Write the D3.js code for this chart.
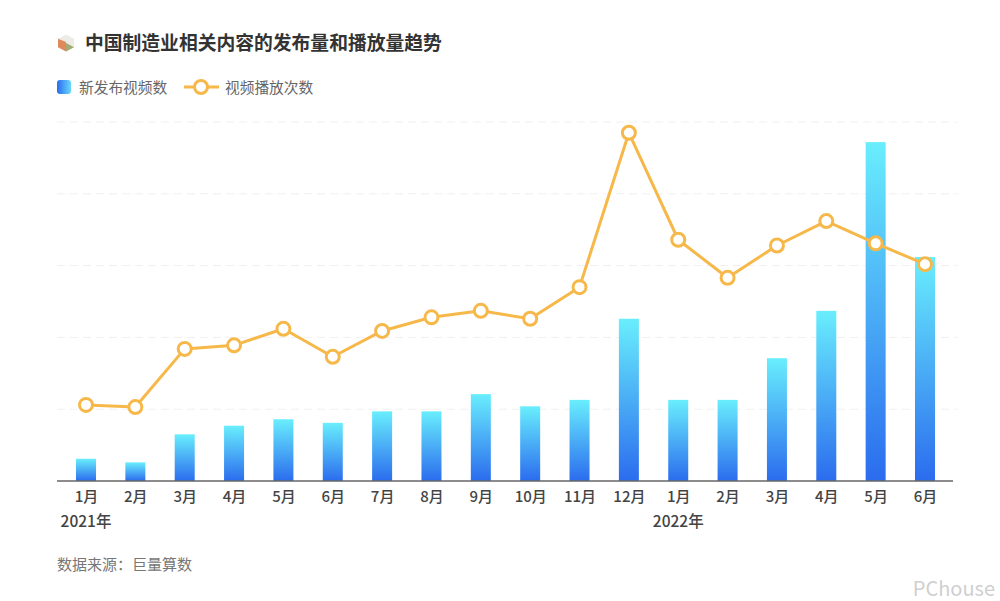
<!DOCTYPE html>
<html>
<head>
<meta charset="utf-8">
<script src="https://cdn.jsdelivr.net/npm/d3@7/dist/d3.min.js"></script>
<style>
    html, body { margin: 0; padding: 0; background: #fff; }
    text { font-family: "Noto Sans CJK SC", "Noto Sans", sans-serif; }
</style>
</head>
<body>
<svg id="chart" width="1000" height="601"></svg>
<script>
var months = ["1月", "2月", "3月", "4月", "5月", "6月", "7月", "8月", "9月", "10月", "11月", "12月", "1月", "2月", "3月", "4月", "5月", "6月"];
var videoCounts = [31, 26, 65, 77, 86, 81, 97, 97, 121, 104, 113, 226, 113, 113, 171, 237, 472, 312];
var playCounts = [106, 103, 184, 189, 212, 173, 209, 228, 237, 226, 270, 485, 336, 283, 328, 362, 331, 302];
var gridValues = [100, 200, 300, 400, 500];
var yearLabels = [{ index: 0, text: "2021年" }, { index: 12, text: "2022年" }];

var svg = d3.select("#chart");

var x = d3.scalePoint().domain(d3.range(months.length)).range([86, 925]);
var y = d3.scaleLinear().domain([0, 500]).range([481, 122]);

var defs = svg.append("defs");

var barGrad = defs.append("linearGradient")
    .attr("id", "barGrad").attr("x1", 0).attr("y1", 0).attr("x2", 0).attr("y2", 1);
barGrad.append("stop").attr("offset", "0%").attr("stop-color", "#69eefd");
barGrad.append("stop").attr("offset", "100%").attr("stop-color", "#2b6cee");

var legendGrad = defs.append("linearGradient")
    .attr("id", "legendGrad").attr("x1", 0).attr("y1", 0).attr("x2", 1).attr("y2", 0);
legendGrad.append("stop").attr("offset", "0%").attr("stop-color", "#2b6cee");
legendGrad.append("stop").attr("offset", "100%").attr("stop-color", "#69d8fd");

defs.append("filter").attr("id", "soft").append("feGaussianBlur").attr("stdDeviation", 0.35);

// title and the little hexagon icon
var icon = svg.append("g").attr("transform", "translate(66,43)");
icon.append("path").attr("d", "M0,-8.5L8,-4.2L8,4.2L0,8.5L-8,4.2L-8,-4.2Z").attr("fill", "#ecebe8");
icon.append("path").attr("d", "M0,-1L0,8.5L-8,4.2L-8,-4.2Z").attr("fill", "#e08a5c");
icon.append("path").attr("d", "M0,0L8,4.2L0,8.5Z").attr("fill", "#a3ab72");

svg.append("text").attr("x", 85).attr("y", 50)
    .attr("font-size", 18.8).attr("font-weight", 700).attr("fill", "#333")
    .text("中国制造业相关内容的发布量和播放量趋势");

// legend
svg.append("rect").attr("x", 57).attr("y", 80).attr("width", 14).attr("height", 14).attr("rx", 3)
    .attr("fill", "url(#legendGrad)");
svg.append("text").attr("x", 79).attr("y", 92.5)
    .attr("font-size", 14.7).attr("fill", "#666").text("新发布视频数");
svg.append("line").attr("x1", 184).attr("x2", 219).attr("y1", 87).attr("y2", 87)
    .attr("stroke", "#f7b84a").attr("stroke-width", 3);
svg.append("circle").attr("cx", 201).attr("cy", 87).attr("r", 6.5)
    .attr("fill", "#fff").attr("stroke", "#f7b84a").attr("stroke-width", 3);
svg.append("text").attr("x", 225).attr("y", 92.5)
    .attr("font-size", 14.7).attr("fill", "#666").text("视频播放次数");

// dashed grid
svg.append("g").selectAll("line").data(gridValues).join("line")
    .attr("x1", 57).attr("x2", 957)
    .attr("y1", function(d) { return y(d); })
    .attr("y2", function(d) { return y(d); })
    .attr("stroke", "#f0f0f0").attr("stroke-width", 1).attr("stroke-dasharray", "8 5");

// bars
svg.append("g").selectAll("rect").data(videoCounts).join("rect")
    .attr("x", function(d, i) { return x(i) - 10; })
    .attr("y", function(d) { return y(d); })
    .attr("width", 20)
    .attr("height", function(d) { return y(0) - y(d); })
    .attr("fill", "url(#barGrad)");

// x axis
var axis = svg.append("g").attr("transform", "translate(0,481)")
    .call(d3.axisBottom(x).tickSize(0).tickPadding(10).tickFormat(function(i) { return months[i]; }));
axis.select(".domain").remove();
axis.selectAll("text")
    .attr("font-size", 15).attr("font-weight", 500).attr("fill", "#444")
    .style("font-family", '"Noto Sans CJK SC", sans-serif');
svg.append("line").attr("x1", 57).attr("x2", 953).attr("y1", 481).attr("y2", 481)
    .attr("stroke", "#666").attr("stroke-width", 1.5);

svg.append("g").selectAll("text").data(yearLabels).join("text")
    .attr("x", function(d) { return x(d.index); })
    .attr("y", 527)
    .attr("text-anchor", "middle")
    .attr("font-size", 15.5).attr("font-weight", 500).attr("fill", "#444")
    .text(function(d) { return d.text; });

// line and markers
var line = d3.line()
    .x(function(d, i) { return x(i); })
    .y(function(d) { return y(d); });

svg.append("path").datum(playCounts)
    .attr("d", line)
    .attr("fill", "none").attr("stroke", "#f7b84a").attr("stroke-width", 3).attr("stroke-linejoin", "round");

svg.append("g").selectAll("circle").data(playCounts).join("circle")
    .attr("cx", function(d, i) { return x(i); })
    .attr("cy", function(d) { return y(d); })
    .attr("r", 6.5)
    .attr("fill", "#fff").attr("stroke", "#f7b84a").attr("stroke-width", 3);

// footer
svg.append("text").attr("x", 57).attr("y", 570)
    .attr("font-size", 15).attr("fill", "#777").text("数据来源：巨量算数");

svg.append("text").attr("x", 995).attr("y", 596).attr("text-anchor", "end")
    .attr("font-size", 20).attr("fill", "#cfcfcf").text("PChouse");
</script>
</body>
</html>
